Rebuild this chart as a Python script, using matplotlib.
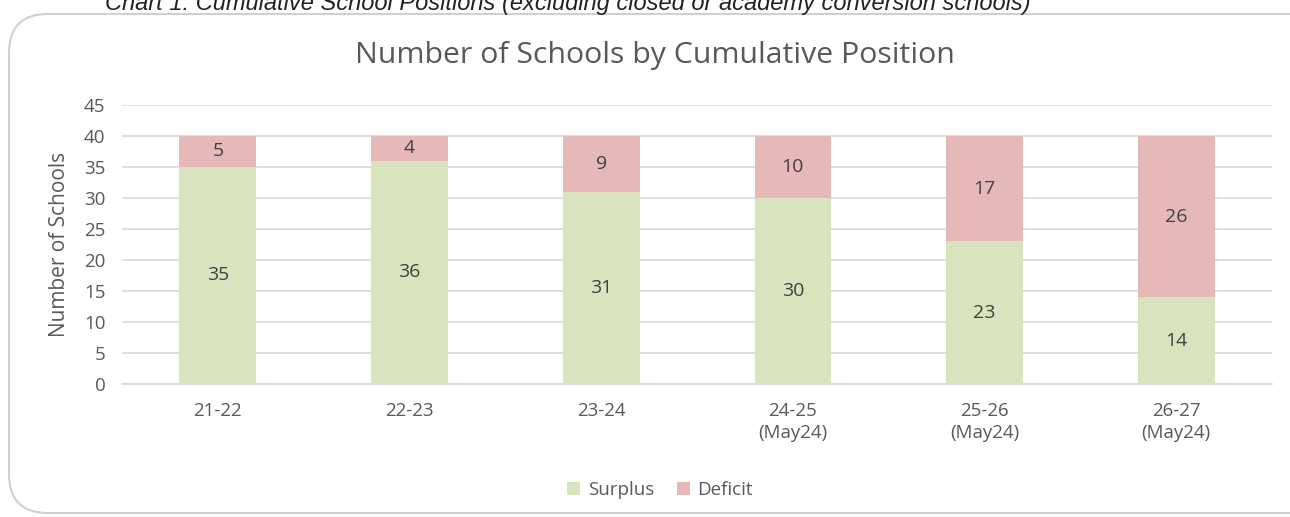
import matplotlib
matplotlib.use("Agg")
import matplotlib.pyplot as plt
from matplotlib.patches import FancyBboxPatch

categories = ["21-22", "22-23", "23-24", "24-25\n(May24)", "25-26\n(May24)", "26-27\n(May24)"]
surplus = [35, 36, 31, 30, 23, 14]
deficit = [5, 4, 9, 10, 17, 26]
yticks = list(range(0, 50, 5))

green = "#d7e4bd"
red = "#e6b9b8"
txt = "#595959"
font = "Open Sans"

fig = plt.figure(figsize=(12.9, 5.17), dpi=100)
fig.patch.set_facecolor("white")

# rounded frame
frame = FancyBboxPatch((9/1290, 4/517), 1330/1290, (503-4)/517,
                       boxstyle="round,pad=0,rounding_size=0.03",
                       transform=fig.transFigure, facecolor="none",
                       edgecolor="#d0d0d0", linewidth=1.5, zorder=-1,
                       mutation_aspect=1290/517)
fig.patches.append(frame)

fig.text(105/1290, 1 - 10/517, "Chart 1: Cumulative School Positions (excluding closed or academy conversion schools)",
         family="Liberation Sans", style="italic", fontsize=17, color="#222222",
         ha="left", va="baseline")

ax = fig.add_axes([122/1290, 1 - 384/517, (1272 - 122)/1290, (384 - 105)/517])
ax.set_facecolor("none")
x = list(range(len(categories)))
w = 0.40
b1 = ax.bar(x, surplus, w, color=green, label="Surplus", zorder=3)
b2 = ax.bar(x, deficit, w, bottom=surplus, color=red, label="Deficit", zorder=3)

for i in x:
    ax.text(i, surplus[i] / 2, str(surplus[i]), ha="center", va="center",
            fontsize=14, color="#404040", family=font, zorder=4)
    ax.text(i, surplus[i] + deficit[i] / 2, str(deficit[i]), ha="center", va="center",
            fontsize=14, color="#404040", family=font, zorder=4)

ax.set_xlim(-0.5, len(categories) - 0.5)
ax.set_ylim(0, 45)
ax.set_yticks(yticks)
ax.set_xticks(x)
ax.set_xticklabels(categories, family=font, fontsize=13.5, color=txt, linespacing=1.3)
for lab in ax.get_yticklabels():
    lab.set_family(font)
    lab.set_fontsize(13.5)
    lab.set_color(txt)
ax.tick_params(axis="both", length=0)
ax.tick_params(axis="x", pad=13)
ax.tick_params(axis="y", pad=12)
ax.grid(axis="y", color="#d9d9d9", linewidth=1.2, zorder=0)
for s in ["top", "right", "left"]:
    ax.spines[s].set_visible(False)
ax.spines["bottom"].set_color("#d9d9d9")
ax.spines["bottom"].set_linewidth(1.2)

ax.set_ylabel("Number of Schools", family=font, fontsize=15, color=txt, labelpad=10)

fig.text(655/1290, 1 - 55/517, "Number of Schools by Cumulative Position", family=font,
         fontsize=21.8, color=txt, ha="center", va="center")

leg = fig.legend(handles=[b1, b2], labels=["Surplus", "Deficit"], loc="center",
                 bbox_to_anchor=(660/1290, 1 - 490/517), ncol=2, frameon=False,
                 prop={"family": font, "size": 13.5}, handlelength=0.7, handleheight=0.7,
                 columnspacing=1.2, handletextpad=0.4)
for t in leg.get_texts():
    t.set_color(txt)

fig.savefig("out.png", dpi=100, facecolor="white")
